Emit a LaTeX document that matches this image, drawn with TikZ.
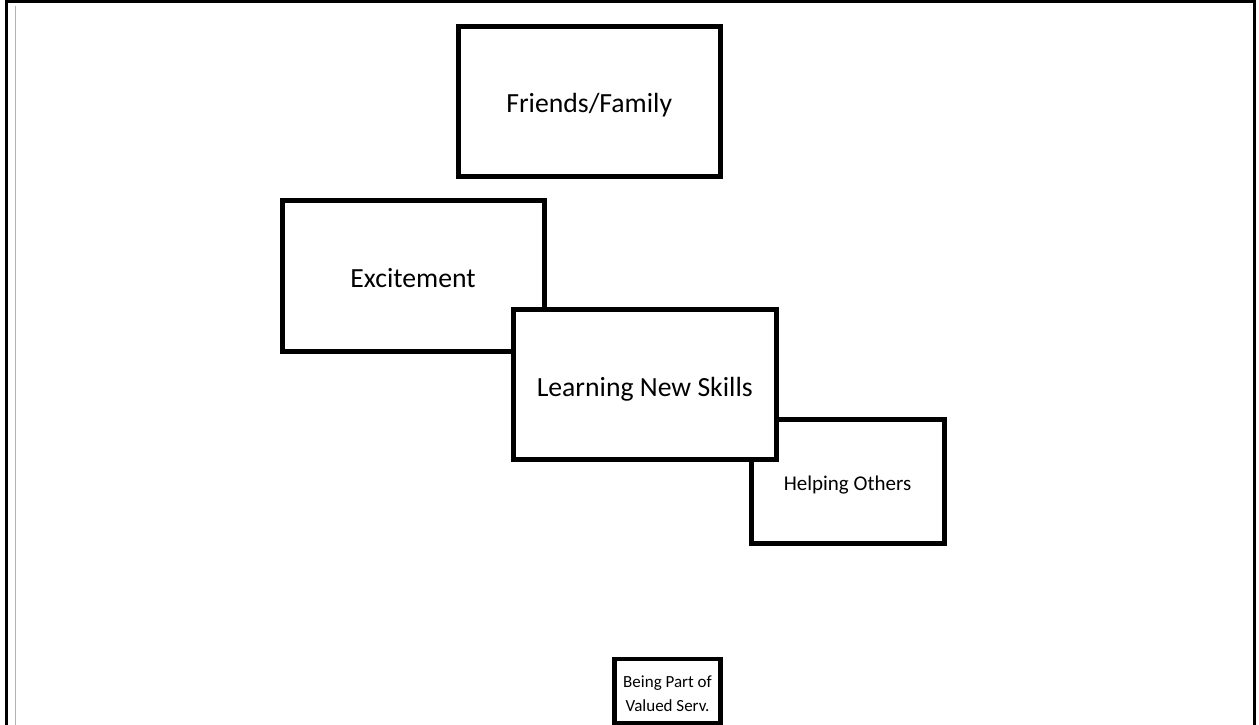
\documentclass[tikz,border=0pt]{standalone}
\usepackage{fontspec}
\setmainfont{Carlito}
\newcommand{\lowr}[2]{\raisebox{-#1}[\height][\depth]{#2}}
\begin{document}
\begin{tikzpicture}[x=1pt,y=-1pt,
 box/.style={draw=black, line width=5pt, fill=white, inner sep=0pt, outer sep=0pt, align=center},
 bigtext/.style={font=\fontsize{27.7}{33}\selectfont},
 midtext/.style={font=\fontsize{21}{25}\selectfont},
 smalltext/.style={font=\fontsize{17}{24}\selectfont},
 frameline/.style={draw=black, line width=3pt},
 grayline/.style={draw=black!30, line width=1.4pt}]
\useasboundingbox (0,0) rectangle (1259,725);
\fill[white] (0,0) rectangle (1259,725);
\coordinate (fa) at (6,725);
\coordinate (fb) at (6,1.5);
\coordinate (fc) at (1254.5,1.5);
\coordinate (fd) at (1254.5,725);
\draw[frameline] (fa) -- (fb) -- (fc) -- (fd);
\coordinate (ga) at (15.3,6);
\coordinate (gb) at (15.3,725);
\draw[grayline] (ga) -- (gb);
\node[box, bigtext, minimum width=262.5pt, minimum height=149.5pt] (ff) at (589.25,101.25) {\lowr{4pt}{Friends/Family}};
\node[box, bigtext, minimum width=262pt, minimum height=151pt] (ex) at (413,275.5) {\lowr{3pt}{Excitement}};
\node[box, midtext, minimum width=193pt, minimum height=124.4pt] (ho) at (847.5,481.2) {\lowr{4pt}{Helping Others}};
\node[box, bigtext, minimum width=262.5pt, minimum height=149.5pt] (lns) at (644.75,384.25) {\lowr{5pt}{Learning New Skills}};
\node[box, smalltext, line width=4.5pt, minimum width=106pt, minimum height=64pt] (bp) at (667.5,691) {\lowr{4pt}{\begin{tabular}{@{}c@{}}Being Part of\\Valued Serv.\end{tabular}}};
\end{tikzpicture}
\end{document}
